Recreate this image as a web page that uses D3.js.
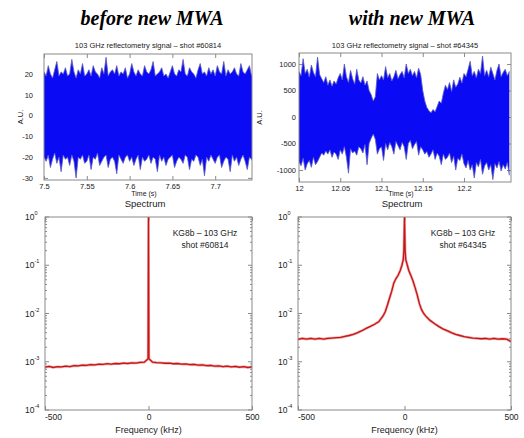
<!DOCTYPE html>
<html>
<head>
<meta charset="utf-8">
<script src="https://cdn.jsdelivr.net/npm/d3@7"></script>
<style>
body { margin: 0; background: #fff; }
svg { display: block; }
text { font-family: "Liberation Sans", Arial, sans-serif; fill: #222; }
</style>
</head>
<body>
<svg width="524" height="438"></svg>
<script>
// column headings
const headings = ['before new MWA', 'with new MWA'];
const signalTitles = ['103 GHz reflectometry signal \u2013 shot #60814', '103 GHz reflectometry signal \u2013 shot #64345'];
const shotLabels = ['shot #60814', 'shot #64345'];
const diagLabel = 'KG8b \u2013 103 GHz';

// signal before (shot 60814): t = 7.5 + i*0.0025 s, max / min of each sample pair (A.U.)
const sigAStart = 7.5;
const sigAStep = 0.0025;
const sigAHi = [
  21, 19, 24, 20, 18, 22, 26, 19, 21, 20,
  23, 19, 20, 27, 21, 18, 22, 20, 25, 19,
  20, 22, 19, 24, 21, 20, 18, 23, 20, 28,
  19, 21, 22, 20, 24, 19, 21, 20, 23, 18,
  20, 25, 21, 19, 22, 20, 19, 24, 21, 20,
  22, 26, 19, 20, 21, 23, 19, 20, 18, 21,
  24, 20, 19, 22, 21, 27, 20, 19, 23, 21,
  20, 18, 22, 25, 20, 21, 19, 23, 20, 22,
  19, 24, 21, 20, 26, 19, 22, 20, 21, 23,
  20, 19, 25, 21, 20, 22, 24, 19, 21
];
const sigALo = [
  -20, -22, -19, -25, -21, -18, -23, -20, -27, -19,
  -21, -20, -24, -19, -22, -30, -20, -21, -19, -23,
  -22, -19, -26, -20, -21, -18, -24, -22, -20, -19,
  -25, -21, -20, -22, -28, -19, -21, -23, -20, -19,
  -22, -20, -24, -21, -19, -26, -20, -22, -21, -19,
  -23, -20, -21, -27, -19, -22, -20, -24, -21, -20,
  -19, -25, -22, -20, -21, -23, -19, -20, -26, -21,
  -22, -19, -20, -24, -21, -29, -20, -22, -19, -21,
  -23, -20, -19, -25, -22, -20, -21, -27, -19, -22,
  -20, -24, -21, -19, -22, -26, -20, -21, -23
];

// signal with new MWA (shot 64345): t = 12 + i*0.0025 s
const sigBStart = 12.0;
const sigBStep = 0.0025;
const sigBHi = [
  860, 780, 1100, 820, 900, 750, 980, 840, 760, 1130,
  800, 720, 650, 760, 600, 700, 580, 680, 620, 740,
  820, 700, 1000, 760, 650, 880, 720, 620, 900, 700,
  640, 760, 600, 680, 500, 420,
  300, 380, 820, 700,
  780, 700, 950, 740, 820, 680, 760, 880, 720, 800,
  860, 740, 1000, 820, 900, 780, 860, 740, 920, 800,
  500, 300,
  180, 120, 80, 140, 100, 200, 300, 260,
  450, 600, 520, 650, 480, 700, 560, 620, 750, 640,
  820, 760, 900, 1050, 780, 860, 740, 900, 820, 1150,
  780, 880, 760, 940, 820, 700, 880, 1000, 760, 840,
  900, 780, 860
];
const sigBLo = [
  -850, -920, -780, -1000, -880, -820, -950, -760, -900, -840,
  -760, -680, -720, -640, -700, -620, -760, -660, -700, -800,
  -620, -700, -560, -760, -1060, -600, -680, -640, -720, -560,
  -600, -680, -520, -900, -500, -400,
  -320, -420, -700, -600,
  -560, -820, -500, -620, -480, -560, -700, -460, -540, -620,
  -480, -560, -800, -500, -440, -600, -520, -460, -720, -560,
  -620, -700,
  -650, -760, -700, -620, -800, -680, -740, -900,
  -700, -800, -760, -680, -860, -740, -1000, -780, -820, -700,
  -880, -960, -820, -1000, -900, -1150, -860, -940, -800, -1080,
  -920, -860, -1000, -900, -1180, -880, -960, -840, -1020, -900,
  -980, -860, -1100
];

// spectra (frequency in kHz, power spectral density)
const specAFreq = [-500, -480, -460, -440, -420, -400, -380, -360, -340, -320, -300, -280, -260, -240, -220, -200,
  -180, -160, -140, -120, -100, -80, -60, -40, -20, -2, 0, 2, 20, 40, 60, 80, 100, 120, 140, 160, 180,
  200, 220, 240, 260, 280, 300, 320, 340, 360, 380, 400, 420, 440, 460, 480, 500];
const specAVal = [7.7e-4, 8.0e-4, 7.6e-4, 7.9e-4, 7.8e-4, 8.1e-4, 7.9e-4, 8.3e-4, 8.2e-4, 8.5e-4, 8.4e-4, 8.7e-4,
  8.6e-4, 8.9e-4, 8.8e-4, 9.1e-4, 8.9e-4, 9.2e-4, 9.1e-4, 9.4e-4, 9.2e-4, 9.5e-4, 9.4e-4, 9.7e-4, 9.8e-4,
  1.15e-3, 1.0, 1.15e-3, 9.8e-4, 9.6e-4, 9.5e-4, 9.3e-4, 9.4e-4, 9.1e-4, 9.2e-4, 8.9e-4, 9.0e-4, 8.7e-4,
  8.8e-4, 8.5e-4, 8.6e-4, 8.3e-4, 8.4e-4, 8.1e-4, 8.2e-4, 7.9e-4, 8.1e-4, 7.8e-4, 8.0e-4, 7.7e-4, 7.9e-4,
  7.6e-4, 7.8e-4];

const specBFreq = [-500, -480, -460, -440, -420, -400, -380, -360, -340, -320, -300, -280, -260, -240, -220, -200,
  -180, -160, -140, -120, -100, -90, -80, -70, -60, -50, -40, -30, -20, -12, -6, -3, 0, 3, 6, 12, 20, 30,
  40, 50, 60, 70, 80, 90, 100, 120, 140, 160, 180, 200, 220, 240, 260, 280, 300, 320, 340, 360, 380, 400,
  420, 440, 460, 480, 500];
const specBVal = [2.9e-3, 3.05e-3, 2.95e-3, 3.05e-3, 2.95e-3, 3.05e-3, 2.95e-3, 3.05e-3, 3.1e-3, 3.15e-3,
  3.2e-3, 3.35e-3, 3.5e-3, 3.7e-3, 4.0e-3, 4.4e-3, 4.9e-3, 5.4e-3, 6.0e-3, 6.8e-3, 9.0e-3, 1.1e-2,
  1.5e-2, 2.1e-2, 2.9e-2, 4.3e-2, 5.3e-2, 6.2e-2, 7.8e-2, 1.0e-1, 1.3e-1, 2.0e-1, 1.0, 2.0e-1, 1.3e-1,
  1.05e-1, 7.8e-2, 6.1e-2, 4.7e-2, 3.4e-2, 2.4e-2, 1.6e-2, 1.2e-2, 1.0e-2, 8.8e-3, 7.2e-3, 6.2e-3,
  5.4e-3, 4.8e-3, 4.4e-3, 4.0e-3, 3.7e-3, 3.5e-3, 3.3e-3, 3.2e-3, 3.1e-3, 3.05e-3, 3.0e-3, 3.05e-3,
  2.95e-3, 3.05e-3, 2.95e-3, 3.0e-3, 2.95e-3, 2.6e-3];

// tick values
const sigATicksX = [7.5, 7.55, 7.6, 7.65, 7.7];
const sigATicksY = [-30, -20, -10, 0, 10, 20];
const sigBTicksX = [12, 12.05, 12.1, 12.15, 12.2];
const sigBTicksY = [-1000, -500, 0, 500, 1000];
const specTicksX = [-500, 0, 500];
const specDecades = [0, -1, -2, -3, -4];

const svg = d3.select('svg');

// frames (pixel boxes of the four axes)
const frames = [
  { x0: 44, x1: 252, y0: 54, y1: 180 },
  { x0: 299, x1: 511, y0: 53, y1: 182 },
  { x0: 45, x1: 252, y0: 217, y1: 410 },
  { x0: 298, x1: 511, y0: 217, y1: 410 }
];

function styleAxis(g, size) {
  g.select('.domain').remove();
  g.selectAll('line').attr('stroke', '#8a8a8a');
  g.selectAll('text').attr('fill', '#222').style('font-size', size + 'px')
    .style('font-family', '"Liberation Sans", Arial, sans-serif');
}

function drawFrame(f, id, xScale, yScale, xTicks, yTicks, fontSize, yPad) {
  svg.append('clipPath').attr('id', id)
    .append('rect').attr('x', f.x0).attr('y', f.y0).attr('width', f.x1 - f.x0).attr('height', f.y1 - f.y0);

  const xb = svg.append('g').attr('transform', `translate(0,${f.y1})`)
    .call(d3.axisBottom(xScale).tickValues(xTicks).tickSize(-4).tickPadding(4).tickFormat(d => String(d)))
    .call(g => styleAxis(g, fontSize));
  svg.append('g').attr('transform', `translate(0,${f.y0})`)
    .call(d3.axisTop(xScale).tickValues(xTicks).tickSize(-4).tickFormat(''))
    .call(g => styleAxis(g, fontSize));
  if (yTicks) {
    svg.append('g').attr('transform', `translate(${f.x0},0)`)
      .call(d3.axisLeft(yScale).tickValues(yTicks).tickSize(-4).tickPadding(yPad).tickFormat(d => String(d)))
      .call(g => styleAxis(g, fontSize));
    svg.append('g').attr('transform', `translate(${f.x1},0)`)
      .call(d3.axisRight(yScale).tickValues(yTicks).tickSize(-4).tickFormat(''))
      .call(g => styleAxis(g, fontSize));
  }
  return xb;
}

function drawBox(f) {
  svg.append('rect')
    .attr('x', f.x0).attr('y', f.y0)
    .attr('width', f.x1 - f.x0).attr('height', f.y1 - f.y0)
    .attr('fill', 'none').attr('stroke', '#8a8a8a').attr('stroke-width', 1);
}

// Signal panels
function drawSignal(f, id, xDom, yDom, start, step, hi, lo, xTicks, yTicks, yPad) {
  const x = d3.scaleLinear().domain(xDom).range([f.x0, f.x1]);
  const y = d3.scaleLinear().domain(yDom).range([f.y1, f.y0]);
  drawFrame(f, id, x, y, xTicks, yTicks, 7.5, yPad);

  const tx = (d, i) => x(start + i * step);

  // dense band between the extremes of each sample pair
  const band = d3.area()
    .x(tx)
    .y0((d, i) => y(lo[i]))
    .y1(d => y(d));
  svg.append('path')
    .datum(hi)
    .attr('clip-path', `url(#${id})`)
    .attr('d', band)
    .attr('fill', '#0a0af5');

  // thin greyish spikes along the envelope
  const edge = d3.line().x(tx).y(d => y(d));
  [hi, lo].forEach(s => {
    svg.append('path')
      .datum(s)
      .attr('clip-path', `url(#${id})`)
      .attr('d', edge)
      .attr('fill', 'none')
      .attr('stroke', '#5c5cc4')
      .attr('stroke-width', 0.8);
  });

  drawBox(f);
}

drawSignal(frames[0], 'clipA', [7.5, 7.743], [-31, 29.6], sigAStart, sigAStep, sigAHi, sigALo, sigATicksX, sigATicksY, 11);
drawSignal(frames[1], 'clipB', [12, 12.257], [-1226, 1207], sigBStart, sigBStep, sigBHi, sigBLo, sigBTicksX, sigBTicksY, 3);

// Spectrum panels
function drawSpectrum(f, id, freq, vals, labelX, shot) {
  const x = d3.scaleLinear().domain([-500, 500]).range([f.x0, f.x1]);
  const y = d3.scaleLog().domain([1e-4, 1]).range([f.y1, f.y0]);
  const xb = drawFrame(f, id, x, y, specTicksX, null, 8.5, 0);

  // shift the -500 label clear of the 10^-4 label, as in the original
  xb.selectAll('.tick text').filter(d => d === -500).attr('dx', 8);

  // log y ticks, major and minor, on both sides
  const minor = y.ticks();
  const isMajor = d => Math.abs(Math.log10(d) - Math.round(Math.log10(d))) < 1e-9;
  [f.x0, f.x1].forEach((xp, side) => {
    const dir = side === 0 ? 1 : -1;
    svg.append('g').selectAll('line')
      .data(minor)
      .join('line')
      .attr('x1', xp)
      .attr('x2', d => xp + dir * (isMajor(d) ? 4 : 2))
      .attr('y1', d => y(d)).attr('y2', d => y(d))
      .attr('stroke', '#8a8a8a');
  });

  const lab = svg.append('g');
  specDecades.forEach(e => {
    const yp = y(Math.pow(10, e));
    const t = lab.append('text')
      .attr('x', f.x0 - 20).attr('y', yp + 3)
      .style('font-size', '8.5px');
    t.append('tspan').text('10');
    t.append('tspan').attr('dy', -5).style('font-size', '5.5px').text(String(e));
  });

  const line = d3.line().x((d, i) => x(freq[i])).y(d => y(d));
  svg.append('path')
    .datum(vals)
    .attr('clip-path', `url(#${id})`)
    .attr('d', line)
    .attr('fill', 'none')
    .attr('stroke', '#e06a6a')
    .attr('stroke-width', 2.6)
    .attr('stroke-opacity', 0.6);
  svg.append('path')
    .datum(vals)
    .attr('clip-path', `url(#${id})`)
    .attr('d', line)
    .attr('fill', 'none')
    .attr('stroke', '#c81414')
    .attr('stroke-width', 1.3);

  drawBox(f);

  svg.append('text')
    .attr('x', labelX).attr('y', f.y0 + 19)
    .attr('text-anchor', 'middle')
    .style('font-size', '8.5px')
    .text(diagLabel);
  svg.append('text')
    .attr('x', labelX).attr('y', f.y0 + 31)
    .attr('text-anchor', 'middle')
    .style('font-size', '8.5px')
    .text(shot);

  svg.append('text')
    .attr('x', (f.x0 + f.x1) / 2).attr('y', f.y1 + 23)
    .attr('text-anchor', 'middle')
    .style('font-size', '9px')
    .text('Frequency (kHz)');
}

drawSpectrum(frames[2], 'clipC', specAFreq, specAVal, 205, shotLabels[0]);
drawSpectrum(frames[3], 'clipD', specBFreq, specBVal, 463, shotLabels[1]);

// headings and titles
[frames[0], frames[1]].forEach((f, i) => {
  const cx = (f.x0 + f.x1) / 2;
  svg.append('text')
    .attr('x', [152, 412][i]).attr('y', 25)
    .attr('text-anchor', 'middle')
    .style('font-family', '"Liberation Serif", "Times New Roman", serif')
    .style('font-weight', 'bold').style('font-style', 'italic')
    .style('font-size', '20px').style('fill', '#000')
    .text(headings[i]);
  svg.append('text')
    .attr('x', cx).attr('y', 48)
    .attr('text-anchor', 'middle')
    .style('font-size', '7.5px')
    .text(signalTitles[i]);
  svg.append('text')
    .attr('x', cx - 4).attr('y', 196)
    .attr('text-anchor', 'middle')
    .style('font-size', '7px')
    .text('Time (s)');
  svg.append('text')
    .attr('x', cx - 3).attr('y', 207)
    .attr('text-anchor', 'middle')
    .style('font-size', '9.5px')
    .text('Spectrum');
  svg.append('text')
    .attr('transform', `translate(${[23, 262][i]},${(f.y0 + f.y1) / 2}) rotate(-90)`)
    .attr('text-anchor', 'middle')
    .style('font-size', '7.5px')
    .text('A.U.');
});
</script>
</body>
</html>
